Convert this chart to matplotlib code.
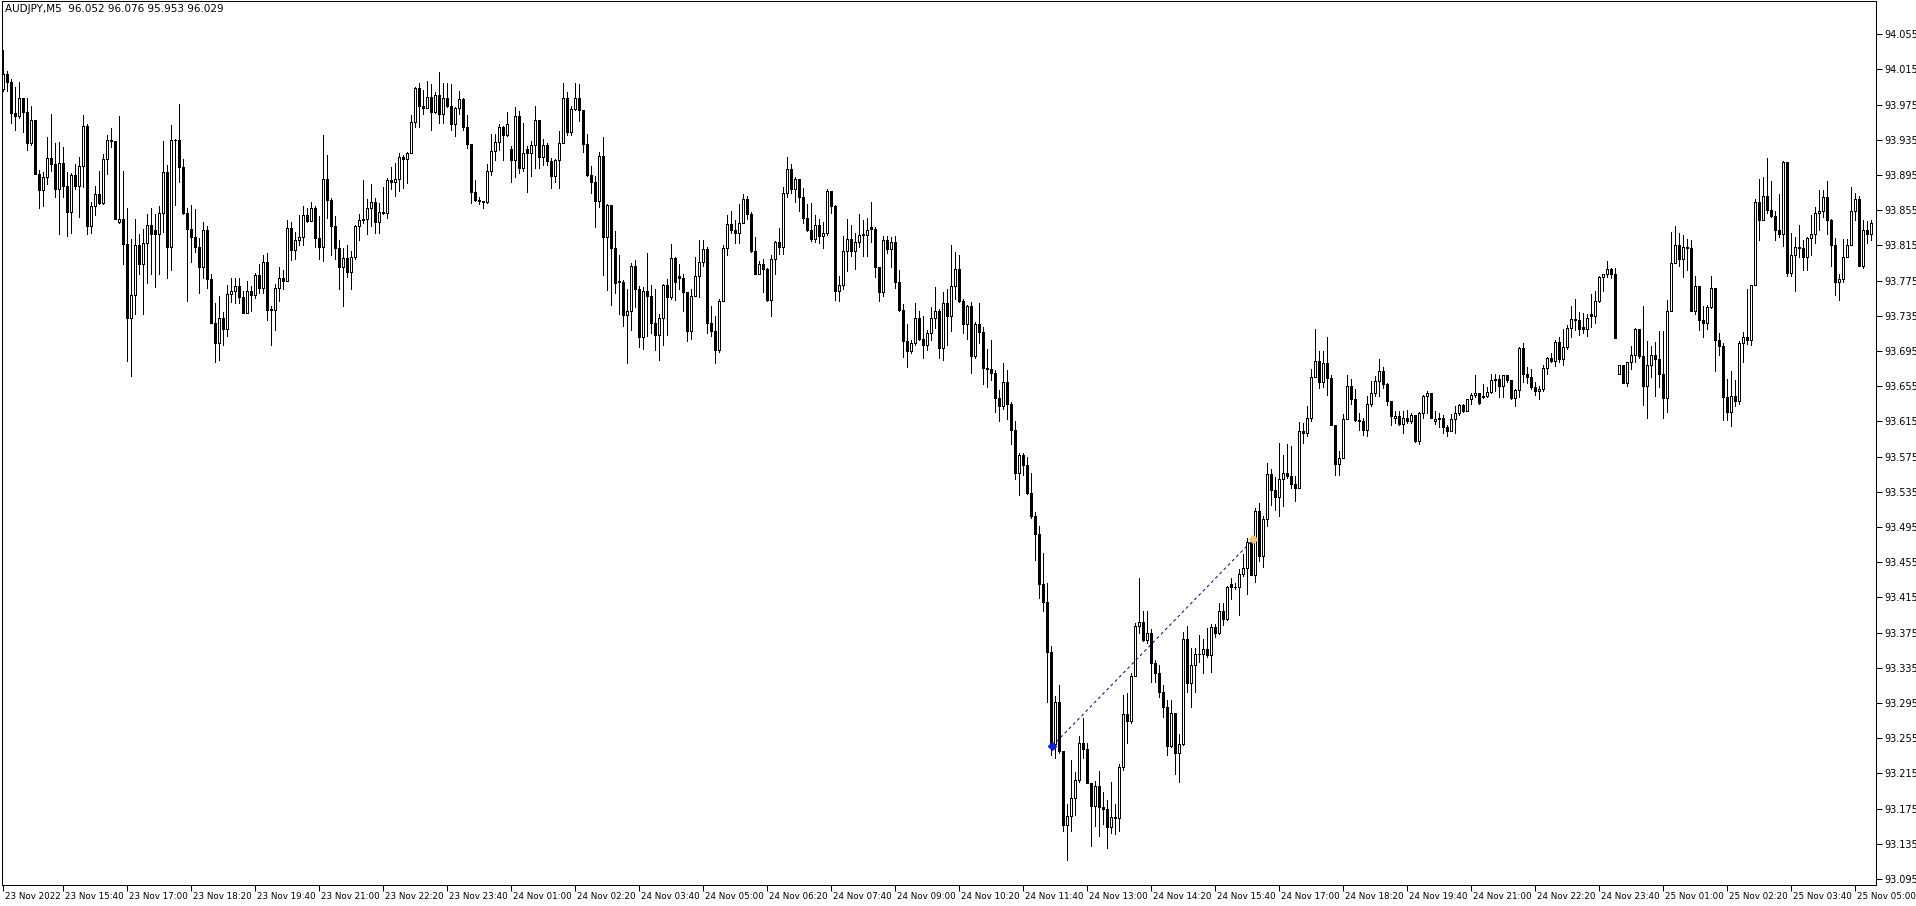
import matplotlib
matplotlib.use("Agg")
import matplotlib.pyplot as plt
from matplotlib.transforms import ScaledTranslation

# AUDJPY M5 candles (price units)
opens = [
    93.993, 94.010, 94.001, 93.965, 93.962, 93.983, 93.967, 93.931, 93.957, 93.896,
    93.878, 93.893, 93.914, 93.908, 93.879, 93.909, 93.883, 93.853, 93.895, 93.883,
    93.905, 93.951, 93.837, 93.860, 93.873, 93.863, 93.913, 93.935, 93.934, 93.842,
    93.845, 93.817, 93.733, 93.759, 93.815, 93.794, 93.818, 93.838, 93.832, 93.828,
    93.852, 93.898, 93.813, 93.935, 93.935, 93.904, 93.852, 93.834, 93.825, 93.813,
    93.791, 93.832, 93.777, 93.727, 93.704, 93.732, 93.720, 93.760, 93.763, 93.769,
    93.756, 93.738, 93.763, 93.759, 93.781, 93.767, 93.796, 93.743, 93.742, 93.767,
    93.778, 93.775, 93.835, 93.810, 93.821, 93.825, 93.849, 93.843, 93.857, 93.823,
    93.813, 93.891, 93.867, 93.837, 93.812, 93.791, 93.801, 93.785, 93.802, 93.837,
    93.844, 93.845, 93.857, 93.864, 93.842, 93.853, 93.852, 93.889, 93.887, 93.890,
    93.915, 93.913, 93.920, 93.955, 93.994, 93.973, 93.971, 93.984, 93.967, 93.986,
    93.964, 93.982, 93.973, 93.953, 93.971, 93.981, 93.949, 93.930, 93.876, 93.867,
    93.866, 93.864, 93.900, 93.922, 93.932, 93.950, 93.941, 93.925, 93.912, 93.962,
    93.903, 93.925, 93.920, 93.929, 93.958, 93.915, 93.929, 93.911, 93.894, 93.912,
    93.931, 93.983, 93.944, 93.970, 93.983, 93.969, 93.930, 93.895, 93.887, 93.866,
    93.917, 93.824, 93.861, 93.812, 93.775, 93.773, 93.736, 93.741, 93.792, 93.766,
    93.711, 93.763, 93.757, 93.727, 93.713, 93.733, 93.770, 93.756, 93.801, 93.780,
    93.778, 93.762, 93.718, 93.758, 93.780, 93.796, 93.811, 93.727, 93.718, 93.696,
    93.752, 93.812, 93.839, 93.833, 93.829, 93.840, 93.868, 93.851, 93.809, 93.782,
    93.794, 93.788, 93.753, 93.800, 93.819, 93.813, 93.874, 93.902, 93.879, 93.890,
    93.870, 93.846, 93.832, 93.822, 93.838, 93.826, 93.829, 93.877, 93.860, 93.763,
    93.770, 93.809, 93.822, 93.809, 93.819, 93.828, 93.827, 93.836, 93.834, 93.791,
    93.762, 93.821, 93.811, 93.819, 93.773, 93.742, 93.706, 93.695, 93.704, 93.732,
    93.709, 93.702, 93.716, 93.732, 93.741, 93.698, 93.750, 93.735, 93.769, 93.788,
    93.752, 93.726, 93.746, 93.689, 93.726, 93.717, 93.676, 93.675, 93.670, 93.642,
    93.632, 93.660, 93.635, 93.605, 93.556, 93.577, 93.566, 93.534, 93.508, 93.487,
    93.430, 93.410, 93.353, 93.248, 93.296, 93.240, 93.156, 93.167, 93.187, 93.207,
    93.250, 93.243, 93.204, 93.178, 93.201, 93.177, 93.175, 93.154, 93.166, 93.164,
    93.222, 93.282, 93.275, 93.326, 93.382, 93.387, 93.367, 93.374, 93.340, 93.329,
    93.307, 93.290, 93.246, 93.284, 93.238, 93.248, 93.368, 93.318, 93.338, 93.351,
    93.351, 93.356, 93.349, 93.381, 93.374, 93.400, 93.390, 93.430, 93.427, 93.427,
    93.442, 93.448, 93.478, 93.441, 93.513, 93.462, 93.504, 93.555, 93.537, 93.529,
    93.550, 93.556, 93.553, 93.544, 93.539, 93.604, 93.602, 93.619, 93.665, 93.684,
    93.660, 93.681, 93.664, 93.611, 93.567, 93.573, 93.618, 93.655, 93.641, 93.617,
    93.616, 93.605, 93.635, 93.647, 93.661, 93.672, 93.658, 93.638, 93.619, 93.621,
    93.612, 93.619, 93.615, 93.622, 93.593, 93.624, 93.644, 93.647, 93.615, 93.618,
    93.619, 93.609, 93.604, 93.618, 93.624, 93.634, 93.627, 93.640, 93.645, 93.647,
    93.643, 93.644, 93.648, 93.662, 93.663, 93.655, 93.668, 93.662, 93.642, 93.651,
    93.698, 93.669, 93.665, 93.654, 93.650, 93.652, 93.676, 93.687, 93.684, 93.705,
    93.686, 93.700, 93.721, 93.731, 93.730, 93.722, 93.720, 93.737, 93.735, 93.752,
    93.779, 93.782, 93.788, 93.783, 93.669, 93.679, 93.659, 93.682, 93.691, 93.720,
    93.689, 93.655, 93.679, 93.690, 93.686, 93.669, 93.642, 93.740, 93.795, 93.815,
    93.799, 93.813, 93.812, 93.741, 93.769, 93.730, 93.727, 93.745, 93.767, 93.708,
    93.701, 93.643, 93.626, 93.644, 93.638, 93.704, 93.711, 93.707, 93.770, 93.864,
    93.844, 93.871, 93.855, 93.848, 93.833, 93.828, 93.910, 93.784, 93.804, 93.813,
    93.812, 93.802, 93.823, 93.828, 93.852, 93.854, 93.870, 93.844, 93.816, 93.773,
    93.777, 93.802, 93.816, 93.854, 93.868, 93.792, 93.833, 93.828,
]

highs = [
    94.037, 94.013, 94.004, 93.995, 94.001, 93.982, 93.982, 93.973, 93.957, 93.901,
    93.898, 93.938, 93.964, 93.931, 93.932, 93.927, 93.898, 93.897, 93.908, 93.916,
    93.963, 93.953, 93.864, 93.883, 93.900, 93.919, 93.940, 93.948, 93.932, 93.962,
    93.899, 93.857, 93.822, 93.845, 93.828, 93.834, 93.851, 93.857, 93.851, 93.860,
    93.934, 93.906, 93.952, 93.936, 93.976, 93.913, 93.857, 93.861, 93.856, 93.823,
    93.842, 93.837, 93.782, 93.750, 93.757, 93.739, 93.770, 93.778, 93.778, 93.778,
    93.763, 93.774, 93.769, 93.784, 93.794, 93.804, 93.806, 93.746, 93.771, 93.791,
    93.787, 93.844, 93.842, 93.830, 93.849, 93.860, 93.858, 93.864, 93.860, 93.848,
    93.940, 93.918, 93.869, 93.848, 93.821, 93.812, 93.816, 93.809, 93.838, 93.851,
    93.889, 93.868, 93.885, 93.869, 93.863, 93.881, 93.892, 93.904, 93.909, 93.920,
    93.918, 93.921, 93.963, 93.995, 93.999, 93.992, 94.002, 93.998, 93.989, 94.012,
    94.000, 94.000, 93.998, 93.972, 93.990, 93.983, 93.963, 93.922, 93.889, 93.870,
    93.866, 93.907, 93.942, 93.942, 93.953, 93.951, 93.967, 93.928, 93.972, 93.968,
    93.954, 93.928, 93.934, 93.973, 93.955, 93.936, 93.931, 93.914, 93.913, 93.945,
    94.000, 93.989, 93.973, 94.000, 93.998, 93.969, 93.942, 93.905, 93.894, 93.921,
    93.938, 93.862, 93.859, 93.831, 93.804, 93.776, 93.766, 93.795, 93.798, 93.769,
    93.768, 93.806, 93.770, 93.766, 93.737, 93.771, 93.777, 93.817, 93.802, 93.794,
    93.782, 93.762, 93.766, 93.802, 93.821, 93.821, 93.813, 93.746, 93.735, 93.754,
    93.816, 93.849, 93.854, 93.844, 93.862, 93.873, 93.871, 93.853, 93.825, 93.797,
    93.799, 93.789, 93.804, 93.820, 93.835, 93.881, 93.915, 93.908, 93.893, 93.891,
    93.880, 93.862, 93.863, 93.849, 93.845, 93.842, 93.879, 93.876, 93.861, 93.780,
    93.826, 93.845, 93.838, 93.829, 93.851, 93.844, 93.846, 93.864, 93.836, 93.790,
    93.826, 93.826, 93.824, 93.826, 93.787, 93.748, 93.726, 93.707, 93.749, 93.740,
    93.735, 93.719, 93.745, 93.768, 93.743, 93.762, 93.766, 93.815, 93.808, 93.804,
    93.754, 93.747, 93.751, 93.728, 93.749, 93.722, 93.697, 93.708, 93.673, 93.651,
    93.681, 93.673, 93.637, 93.616, 93.579, 93.579, 93.575, 93.556, 93.512, 93.496,
    93.466, 93.431, 93.360, 93.303, 93.315, 93.240, 93.180, 93.230, 93.217, 93.257,
    93.278, 93.250, 93.200, 93.206, 93.218, 93.194, 93.185, 93.205, 93.180, 93.226,
    93.304, 93.306, 93.329, 93.386, 93.437, 93.399, 93.399, 93.379, 93.344, 93.338,
    93.315, 93.298, 93.298, 93.283, 93.260, 93.376, 93.382, 93.357, 93.357, 93.372,
    93.368, 93.380, 93.385, 93.385, 93.409, 93.409, 93.428, 93.437, 93.431, 93.447,
    93.464, 93.483, 93.483, 93.517, 93.522, 93.507, 93.568, 93.561, 93.552, 93.590,
    93.577, 93.589, 93.587, 93.553, 93.614, 93.613, 93.632, 93.674, 93.720, 93.695,
    93.695, 93.711, 93.668, 93.611, 93.581, 93.623, 93.668, 93.663, 93.652, 93.624,
    93.619, 93.644, 93.661, 93.667, 93.686, 93.677, 93.659, 93.638, 93.627, 93.627,
    93.627, 93.628, 93.624, 93.622, 93.626, 93.645, 93.649, 93.645, 93.627, 93.624,
    93.622, 93.611, 93.623, 93.632, 93.635, 93.635, 93.641, 93.647, 93.668, 93.646,
    93.657, 93.654, 93.669, 93.669, 93.668, 93.668, 93.667, 93.662, 93.652, 93.699,
    93.704, 93.677, 93.674, 93.660, 93.655, 93.679, 93.688, 93.693, 93.708, 93.711,
    93.720, 93.724, 93.746, 93.754, 93.739, 93.738, 93.737, 93.760, 93.763, 93.780,
    93.782, 93.797, 93.789, 93.789, 93.679, 93.679, 93.683, 93.701, 93.721, 93.718,
    93.746, 93.706, 93.701, 93.705, 93.718, 93.718, 93.753, 93.830, 93.837, 93.829,
    93.827, 93.822, 93.821, 93.780, 93.769, 93.746, 93.747, 93.780, 93.767, 93.716,
    93.704, 93.663, 93.672, 93.662, 93.706, 93.717, 93.765, 93.770, 93.868, 93.890,
    93.893, 93.914, 93.888, 93.854, 93.873, 93.911, 93.908, 93.829, 93.825, 93.838,
    93.821, 93.825, 93.849, 93.859, 93.878, 93.878, 93.888, 93.845, 93.823, 93.782,
    93.822, 93.822, 93.881, 93.874, 93.871, 93.844, 93.843, 93.844,
]

lows = [
    93.991, 93.991, 93.954, 93.946, 93.960, 93.944, 93.923, 93.929, 93.896, 93.857,
    93.860, 93.885, 93.900, 93.870, 93.828, 93.870, 93.826, 93.829, 93.879, 93.847,
    93.881, 93.828, 93.829, 93.849, 93.862, 93.862, 93.896, 93.927, 93.845, 93.840,
    93.794, 93.684, 93.667, 93.737, 93.783, 93.737, 93.772, 93.783, 93.768, 93.783,
    93.830, 93.778, 93.787, 93.861, 93.887, 93.851, 93.752, 93.796, 93.808, 93.761,
    93.778, 93.767, 93.727, 93.682, 93.685, 93.702, 93.712, 93.751, 93.749, 93.749,
    93.738, 93.741, 93.741, 93.755, 93.761, 93.761, 93.730, 93.702, 93.719, 93.752,
    93.765, 93.774, 93.798, 93.799, 93.815, 93.815, 93.842, 93.843, 93.813, 93.799,
    93.797, 93.846, 93.804, 93.799, 93.765, 93.746, 93.779, 93.765, 93.799, 93.821,
    93.841, 93.828, 93.837, 93.829, 93.829, 93.851, 93.846, 93.879, 93.871, 93.877,
    93.880, 93.886, 93.921, 93.950, 93.950, 93.964, 93.972, 93.946, 93.965, 93.954,
    93.954, 93.972, 93.946, 93.939, 93.964, 93.946, 93.926, 93.863, 93.866, 93.862,
    93.857, 93.863, 93.895, 93.912, 93.923, 93.912, 93.939, 93.887, 93.893, 93.897,
    93.900, 93.876, 93.894, 93.903, 93.903, 93.906, 93.906, 93.880, 93.887, 93.880,
    93.931, 93.940, 93.941, 93.969, 93.956, 93.921, 93.894, 93.875, 93.836, 93.859,
    93.781, 93.764, 93.747, 93.761, 93.737, 93.723, 93.681, 93.719, 93.745, 93.700,
    93.697, 93.712, 93.715, 93.696, 93.685, 93.702, 93.713, 93.754, 93.753, 93.766,
    93.740, 93.706, 93.709, 93.757, 93.756, 93.792, 93.716, 93.712, 93.681, 93.694,
    93.752, 93.804, 93.829, 93.818, 93.818, 93.840, 93.845, 93.808, 93.782, 93.782,
    93.762, 93.752, 93.735, 93.782, 93.805, 93.805, 93.870, 93.874, 93.864, 93.854,
    93.841, 93.831, 93.820, 93.819, 93.818, 93.812, 93.827, 93.852, 93.753, 93.752,
    93.766, 93.786, 93.803, 93.788, 93.813, 93.803, 93.803, 93.819, 93.779, 93.752,
    93.757, 93.806, 93.790, 93.767, 93.741, 93.688, 93.677, 93.693, 93.702, 93.707,
    93.687, 93.696, 93.708, 93.721, 93.687, 93.685, 93.702, 93.718, 93.754, 93.751,
    93.715, 93.709, 93.670, 93.687, 93.704, 93.657, 93.654, 93.662, 93.626, 93.616,
    93.629, 93.618, 93.589, 93.549, 93.531, 93.554, 93.533, 93.505, 93.458, 93.414,
    93.399, 93.296, 93.236, 93.232, 93.238, 93.149, 93.117, 93.149, 93.168, 93.205,
    93.233, 93.204, 93.132, 93.155, 93.144, 93.158, 93.130, 93.147, 93.146, 93.149,
    93.219, 93.249, 93.272, 93.326, 93.374, 93.366, 93.363, 93.319, 93.319, 93.302,
    93.279, 93.236, 93.245, 93.214, 93.205, 93.247, 93.307, 93.291, 93.307, 93.342,
    93.329, 93.347, 93.330, 93.370, 93.373, 93.384, 93.389, 93.413, 93.424, 93.395,
    93.439, 93.419, 93.440, 93.433, 93.456, 93.450, 93.496, 93.520, 93.514, 93.508,
    93.519, 93.551, 93.539, 93.524, 93.539, 93.591, 93.598, 93.616, 93.665, 93.653,
    93.654, 93.645, 93.611, 93.554, 93.554, 93.575, 93.619, 93.635, 93.615, 93.605,
    93.600, 93.598, 93.633, 93.644, 93.644, 93.653, 93.634, 93.611, 93.613, 93.611,
    93.602, 93.613, 93.613, 93.592, 93.589, 93.619, 93.624, 93.619, 93.612, 93.609,
    93.602, 93.598, 93.607, 93.602, 93.622, 93.626, 93.627, 93.635, 93.643, 93.635,
    93.642, 93.643, 93.647, 93.649, 93.643, 93.643, 93.660, 93.641, 93.632, 93.643,
    93.660, 93.659, 93.652, 93.645, 93.641, 93.649, 93.669, 93.683, 93.678, 93.683,
    93.679, 93.697, 93.711, 93.719, 93.713, 93.716, 93.712, 93.722, 93.727, 93.751,
    93.763, 93.779, 93.778, 93.710, 93.669, 93.659, 93.655, 93.674, 93.683, 93.687,
    93.634, 93.619, 93.666, 93.644, 93.654, 93.619, 93.626, 93.740, 93.795, 93.792,
    93.779, 93.787, 93.740, 93.737, 93.719, 93.711, 93.720, 93.744, 93.672, 93.691,
    93.617, 93.617, 93.610, 93.633, 93.635, 93.683, 93.703, 93.702, 93.770, 93.821,
    93.844, 93.852, 93.847, 93.821, 93.824, 93.814, 93.780, 93.780, 93.763, 93.802,
    93.787, 93.787, 93.804, 93.818, 93.832, 93.847, 93.828, 93.792, 93.759, 93.753,
    93.773, 93.802, 93.816, 93.844, 93.792, 93.789, 93.818, 93.821,
]

closes = [
    94.010, 94.001, 93.965, 93.962, 93.983, 93.967, 93.931, 93.957, 93.896, 93.878,
    93.893, 93.914, 93.908, 93.879, 93.909, 93.883, 93.853, 93.895, 93.883, 93.905,
    93.951, 93.837, 93.860, 93.873, 93.863, 93.913, 93.935, 93.934, 93.845, 93.845,
    93.817, 93.733, 93.759, 93.815, 93.794, 93.818, 93.838, 93.828, 93.828, 93.852,
    93.898, 93.813, 93.935, 93.935, 93.904, 93.852, 93.834, 93.825, 93.813, 93.791,
    93.832, 93.777, 93.727, 93.704, 93.732, 93.720, 93.760, 93.763, 93.769, 93.756,
    93.738, 93.763, 93.759, 93.781, 93.767, 93.796, 93.742, 93.742, 93.767, 93.778,
    93.775, 93.835, 93.810, 93.821, 93.825, 93.849, 93.843, 93.857, 93.823, 93.813,
    93.891, 93.867, 93.837, 93.812, 93.791, 93.801, 93.785, 93.802, 93.837, 93.844,
    93.845, 93.857, 93.864, 93.842, 93.853, 93.852, 93.889, 93.887, 93.890, 93.915,
    93.913, 93.920, 93.955, 93.994, 93.973, 93.971, 93.984, 93.967, 93.986, 93.964,
    93.982, 93.973, 93.953, 93.971, 93.981, 93.949, 93.930, 93.876, 93.867, 93.866,
    93.864, 93.900, 93.922, 93.932, 93.950, 93.941, 93.953, 93.912, 93.962, 93.903,
    93.920, 93.920, 93.929, 93.958, 93.915, 93.929, 93.911, 93.894, 93.912, 93.931,
    93.983, 93.944, 93.970, 93.983, 93.969, 93.930, 93.895, 93.887, 93.866, 93.917,
    93.824, 93.861, 93.812, 93.772, 93.773, 93.736, 93.741, 93.792, 93.766, 93.711,
    93.763, 93.757, 93.727, 93.713, 93.733, 93.770, 93.756, 93.801, 93.773, 93.778,
    93.762, 93.718, 93.758, 93.780, 93.796, 93.811, 93.727, 93.718, 93.696, 93.752,
    93.812, 93.839, 93.833, 93.829, 93.840, 93.868, 93.851, 93.809, 93.782, 93.794,
    93.788, 93.753, 93.800, 93.819, 93.813, 93.874, 93.902, 93.879, 93.890, 93.870,
    93.846, 93.832, 93.822, 93.838, 93.826, 93.829, 93.877, 93.860, 93.763, 93.770,
    93.809, 93.822, 93.809, 93.819, 93.827, 93.827, 93.832, 93.834, 93.791, 93.762,
    93.821, 93.811, 93.819, 93.773, 93.742, 93.706, 93.695, 93.704, 93.732, 93.709,
    93.702, 93.716, 93.732, 93.741, 93.698, 93.750, 93.735, 93.769, 93.788, 93.752,
    93.726, 93.746, 93.689, 93.726, 93.717, 93.676, 93.675, 93.670, 93.642, 93.632,
    93.660, 93.635, 93.605, 93.556, 93.577, 93.566, 93.534, 93.508, 93.487, 93.430,
    93.410, 93.353, 93.248, 93.296, 93.240, 93.156, 93.167, 93.187, 93.207, 93.250,
    93.243, 93.204, 93.178, 93.201, 93.177, 93.175, 93.154, 93.166, 93.164, 93.222,
    93.282, 93.275, 93.326, 93.382, 93.387, 93.367, 93.374, 93.340, 93.329, 93.307,
    93.290, 93.246, 93.284, 93.238, 93.248, 93.368, 93.318, 93.338, 93.351, 93.351,
    93.356, 93.349, 93.381, 93.374, 93.400, 93.390, 93.427, 93.427, 93.427, 93.442,
    93.448, 93.478, 93.441, 93.513, 93.462, 93.504, 93.555, 93.537, 93.529, 93.550,
    93.556, 93.553, 93.544, 93.539, 93.604, 93.602, 93.619, 93.665, 93.684, 93.660,
    93.681, 93.664, 93.611, 93.567, 93.573, 93.618, 93.655, 93.641, 93.617, 93.616,
    93.605, 93.635, 93.647, 93.661, 93.672, 93.658, 93.638, 93.621, 93.621, 93.612,
    93.619, 93.615, 93.622, 93.593, 93.624, 93.644, 93.647, 93.619, 93.618, 93.619,
    93.609, 93.604, 93.618, 93.624, 93.634, 93.627, 93.640, 93.645, 93.647, 93.636,
    93.644, 93.648, 93.662, 93.663, 93.655, 93.668, 93.662, 93.642, 93.651, 93.698,
    93.669, 93.665, 93.654, 93.650, 93.652, 93.676, 93.687, 93.684, 93.705, 93.686,
    93.700, 93.721, 93.731, 93.730, 93.720, 93.720, 93.732, 93.735, 93.752, 93.779,
    93.782, 93.788, 93.783, 93.710, 93.679, 93.659, 93.682, 93.691, 93.720, 93.689,
    93.655, 93.679, 93.690, 93.686, 93.669, 93.642, 93.740, 93.795, 93.815, 93.799,
    93.813, 93.812, 93.741, 93.769, 93.730, 93.727, 93.745, 93.767, 93.708, 93.701,
    93.643, 93.626, 93.644, 93.638, 93.704, 93.711, 93.707, 93.770, 93.864, 93.844,
    93.871, 93.855, 93.848, 93.833, 93.828, 93.910, 93.784, 93.804, 93.813, 93.812,
    93.802, 93.823, 93.828, 93.852, 93.854, 93.870, 93.844, 93.816, 93.773, 93.777,
    93.802, 93.816, 93.854, 93.868, 93.792, 93.833, 93.828, 93.840,
]

first_label = "23 Nov 2022"
time_labels = [
    "23 Nov 15:40", "23 Nov 17:00", "23 Nov 18:20", "23 Nov 19:40", "23 Nov 21:00",
    "23 Nov 22:20", "23 Nov 23:40", "24 Nov 01:00", "24 Nov 02:20", "24 Nov 03:40",
    "24 Nov 05:00", "24 Nov 06:20", "24 Nov 07:40", "24 Nov 09:00", "24 Nov 10:20",
    "24 Nov 11:40", "24 Nov 13:00", "24 Nov 14:20", "24 Nov 15:40", "24 Nov 17:00",
    "24 Nov 18:20", "24 Nov 19:40", "24 Nov 21:00", "24 Nov 22:20", "24 Nov 23:40",
    "25 Nov 01:00", "25 Nov 02:20", "25 Nov 03:40", "25 Nov 05:00",
]
price_ticks = [
    94.055, 94.015, 93.975, 93.935, 93.895, 93.855, 93.815, 93.775, 93.735,
    93.695, 93.655, 93.615, 93.575, 93.535, 93.495, 93.455, 93.415, 93.375,
    93.335, 93.295, 93.255, 93.215, 93.175, 93.135, 93.095,
]

# trend line: (bar, price) at each end
trend_bars = [262.3, 312.6]
trend_prices = [93.246, 93.481]

title_text = "AUDJPY,M5  96.052 96.076 95.953 96.029"

PX = 0.72  # one pixel in points at dpi 100


def draw_candles(ax):
    xs = range(len(closes))
    ax.vlines(xs, lows, highs, color="black", linewidth=PX, antialiased=False, zorder=2)
    bottoms = [min(o, c) for o, c in zip(opens, closes)]
    heights = [abs(c - o) for o, c in zip(opens, closes)]
    faces = ["white" if c > o else "black" for o, c in zip(opens, closes)]
    ax.bar(xs, heights, bottom=bottoms, width=0.5, color=faces, edgecolor="black",
           linewidth=PX, antialiased=False, zorder=3)


def main():
    fig = plt.figure(figsize=(19.16, 9.06), dpi=100)
    ax = fig.add_axes([2 / 1916, 21 / 906, 1874 / 1916, 884 / 906])
    ax.set_xlim(-0.25, len(closes) + 0.25)
    ax.set_ylim(93.0882, 94.0927)

    draw_candles(ax)

    ax.plot(trend_bars, trend_prices, color="#000080", linewidth=PX,
            linestyle=(0, (3, 3)), zorder=4)
    ax.plot(trend_bars[0], trend_prices[0], marker="D", markersize=4.5,
            color="#1020e0", markeredgecolor="#1020e0", zorder=5)
    ax.plot(trend_bars[1], trend_prices[1], marker="D", markersize=4,
            color="#f0c878", markeredgecolor="#f0c878", zorder=5)

    for s in ax.spines.values():
        s.set_linewidth(PX)
        s.set_color("black")

    ax.yaxis.tick_right()
    ax.set_yticks(price_ticks)
    ax.set_yticklabels(["%.3f" % p for p in price_ticks])
    ax.tick_params(axis="y", direction="out", length=4, width=PX, pad=2,
                   labelsize=7, colors="black")

    label_bars = [0] + [15 + 16 * i for i in range(len(time_labels))]
    ax.set_xticks(label_bars)
    ax.set_xticklabels([first_label] + time_labels)
    ax.tick_params(axis="x", direction="out", length=4, width=PX, pad=1,
                   labelsize=6.3, colors="black")
    shift = ScaledTranslation(2 / 100, 0, fig.dpi_scale_trans)
    for lab in ax.get_xticklabels():
        lab.set_horizontalalignment("left")
        lab.set_transform(lab.get_transform() + shift)

    fig.text(5 / 1916, 1 - 9 / 906, title_text, fontsize=7.5, va="center", ha="left")

    fig.savefig("out.png", dpi=100, facecolor="white")


if __name__ == "__main__":
    main()
